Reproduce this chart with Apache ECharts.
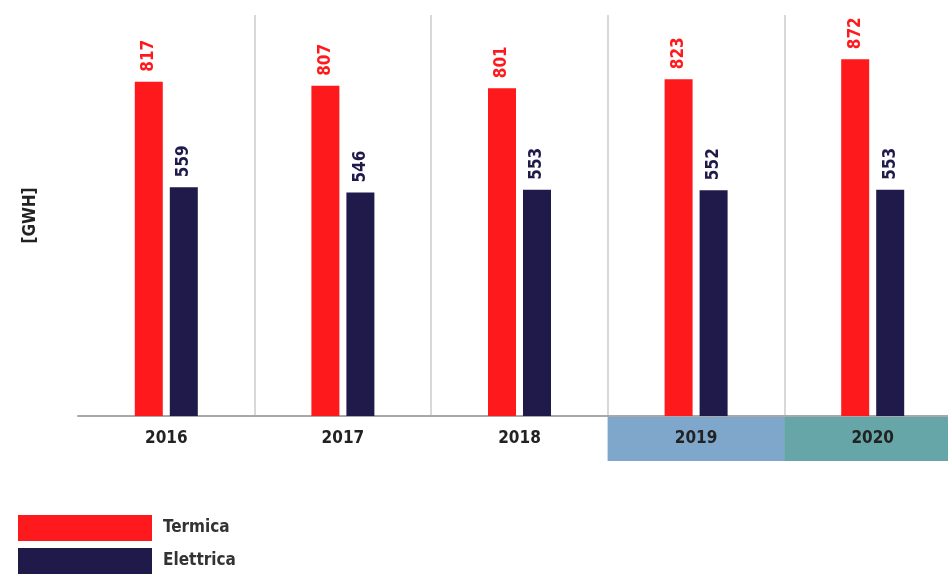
<!DOCTYPE html>
<html>
<head>
<meta charset="utf-8">
<script src="https://cdn.jsdelivr.net/npm/echarts@6/dist/echarts.min.js"></script>
<style>
  html, body { margin: 0; padding: 0; background: #ffffff; }
  #chart { width: 948px; height: 574px; }
</style>
</head>
<body>
<div id="chart"></div>
<script>
// Energy consumption by year, thermal vs electric (GWh)
const years = ['2016', '2017', '2018', '2019', '2020'];
const termica = [817, 807, 801, 823, 872];
const elettrica = [559, 546, 553, 552, 553];

const RED = '#fe1a1c';
const NAVY = '#1f1a4a';
const FONT = '"Liberation Sans Narrow", "DejaVu Sans Condensed", sans-serif';
const FS = 17;

// Year labels: the last two years get a coloured band underneath
const yearBand = { '2019': 'y19', '2020': 'y20' };
const bandBase = {
  width: 177, height: 44, lineHeight: 44, align: 'center',
  fontSize: FS, fontWeight: 'bold', color: '#222222', fontFamily: FONT
};

const chart = echarts.init(document.getElementById('chart'));
chart.setOption({
  animation: false,
  // plot runs a little past the right edge of the canvas
  grid: { left: 78, width: 883, top: 15, bottom: 158, outerBoundsMode: 'none' },
  legend: {
    orient: 'vertical',
    left: 18,
    top: 515,
    padding: 0,
    icon: 'rect',
    itemWidth: 134,
    itemHeight: 26,
    itemGap: 7,
    textStyle: {
      fontSize: FS, fontWeight: 'bold', color: '#333333', fontFamily: FONT,
      padding: [0, 0, 0, 6]
    },
    data: ['Termica', 'Elettrica']
  },
  xAxis: {
    type: 'category',
    data: years,
    axisLine: { lineStyle: { color: '#a8a8a8', width: 2 } },
    axisTick: { show: false },
    splitLine: {
      show: true,
      interval: function (index) { return index !== 0; },
      lineStyle: { color: '#d8d8d8', width: 2 }
    },
    axisLabel: {
      interval: 0,
      margin: 1,
      formatter: function (v) {
        return '{' + (yearBand[v] || 'plain') + '|' + v + '}';
      },
      rich: {
        plain: Object.assign({}, bandBase),
        y19: Object.assign({}, bandBase, { backgroundColor: '#7fa7cc' }),
        y20: Object.assign({}, bandBase, { backgroundColor: '#66a5a8' })
      }
    }
  },
  yAxis: {
    type: 'value',
    min: 0,
    max: 980,
    name: '[GWH]',
    nameLocation: 'middle',
    nameRotate: 90,
    nameGap: 39,
    nameTextStyle: { fontSize: FS, fontWeight: 'bold', color: '#222222', fontFamily: FONT },
    axisLine: { show: false },
    axisTick: { show: false },
    axisLabel: { show: false },
    splitLine: { show: false }
  },
  series: [
    {
      name: 'Termica',
      type: 'bar',
      data: termica,
      barWidth: 28,
      barGap: '25%',
      itemStyle: { color: RED },
      label: {
        show: true, position: 'top', rotate: 90, align: 'left', verticalAlign: 'middle',
        distance: 10, fontSize: FS, fontWeight: 'bold', color: RED, fontFamily: FONT
      }
    },
    {
      name: 'Elettrica',
      type: 'bar',
      data: elettrica,
      barWidth: 28,
      itemStyle: { color: NAVY },
      label: {
        show: true, position: 'top', rotate: 90, align: 'left', verticalAlign: 'middle',
        distance: 10, fontSize: FS, fontWeight: 'bold', color: NAVY, fontFamily: FONT
      }
    }
  ]
});
</script>
</body>
</html>
